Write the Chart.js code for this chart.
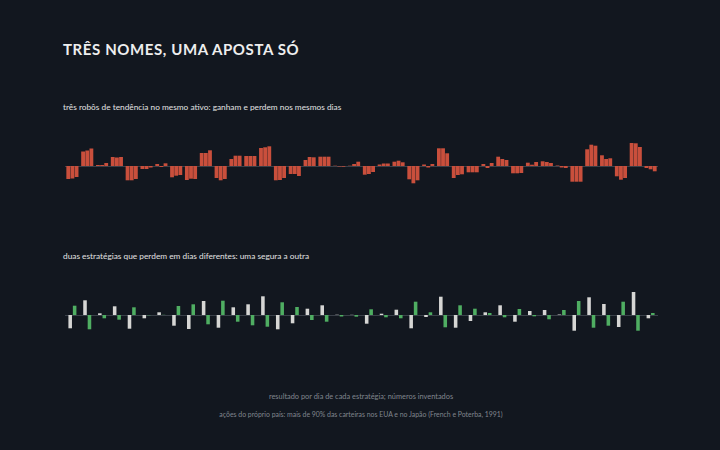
<!DOCTYPE html>
<html lang="pt">
<head>
    <meta charset="UTF-8">
    <title>Três nomes, uma aposta só</title>
    <script src="https://cdn.jsdelivr.net/npm/chart.js"></script>
    <style>
        html, body { margin: 0; padding: 0; }
        body {
            width: 720px; height: 450px; position: relative; overflow: hidden;
            background: #12171f; font-family: "Lato", "Noto Sans", sans-serif;
        }
        .txt { position: absolute; white-space: nowrap; }
        #title { left: 63px; top: 40px; font-size: 15px; font-weight: 700; letter-spacing: 0.6px; color: #eeeeee; }
        .sub { left: 63px; font-size: 8.3px; color: #e2e2e2; }
        #sub1 { top: 102px; }
        #sub2 { top: 251px; }
        .foot { left: 0; width: 722px; text-align: center; color: #80868e; font-size: 7.4px; }
        #foot1 { top: 392px; }
        #foot2 { top: 410px; font-size: 6.9px; }
        .panel { position: absolute; left: 65px; width: 593px; height: 60px; }
        #panel1 { top: 136px; }
        #panel2 { top: 285px; }
    </style>
</head>
<body>
    <div id="title" class="txt">TRÊS NOMES, UMA APOSTA SÓ</div>
    <div id="sub1" class="txt sub">três robôs de tendência no mesmo ativo: ganham e perdem nos mesmos dias</div>
    <div id="sub2" class="txt sub">duas estratégias que perdem em dias diferentes: uma segura a outra</div>
    <div id="foot1" class="txt foot">resultado por dia de cada estratégia; números inventados</div>
    <div id="foot2" class="txt foot">ações do próprio país: mais de 90% das carteiras nos EUA e no Japão (French e Poterba, 1991)</div>

    <div id="panel1" class="panel"><canvas id="chart1"></canvas></div>
    <div id="panel2" class="panel"><canvas id="chart2"></canvas></div>

    <script>
        // 40 dias, resultado diário (%), valores inventados
        var days = [];
        for (var d = 1; d <= 40; d++) days.push('dia ' + d);

        // três robôs de tendência: mesmo sinal quase sempre
        var robo1 = [-1.3, 1.45, 0.1, 0.9, -1.43, -0.3, 0.2, -1.13, -1.4, 1.3,
                     -1.2, 0.7, 1.0, 1.8, -1.43, -0.8, 0.6, 0.93, 0.03, 0.03,
                     -0.87, 0.15, 0.43, -1.33, 0.15, 1.77, -1.2, -0.63, 0.2, 0.93,
                     -0.73, 0.33, 0.47, 0.05, -1.57, 1.67, 1.07, -1.03, 2.3, -0.2];
        var robo2 = [-1.25, 1.55, 0.1, 0.85, -1.43, -0.3, -0.1, -0.97, -1.27, 1.3,
                     -1.43, 1.03, 1.0, 1.87, -1.4, -0.8, 0.9, 0.93, -0.05, 0.2,
                     -0.8, 0.25, 0.53, -1.73, -0.15, 1.77, -0.9, -0.63, -0.2, 0.7,
                     -0.73, 0.13, 0.4, -0.15, -1.57, 2.13, 0.7, -1.37, 2.27, -0.33];
        var robo3 = [-1.1, 1.75, 0.3, 0.9, -1.3, -0.15, 0.27, -0.9, -1.3, 1.57,
                     -1.3, 1.03, 1.0, 1.97, -1.2, -1.0, 0.87, 0.93, -0.07, 0.43,
                     -0.6, 0.25, 0.37, -1.43, 0.2, 1.27, -0.83, -0.63, 0.3, 0.6,
                     -0.7, 0.4, 0.3, -0.2, -1.57, 2.03, 0.77, -1.2, 1.9, -0.53];

        // duas estratégias descorrelacionadas: sinais opostos
        var estrategiaA = [-1.33, 1.47, 0.17, 0.87, -1.37, -0.33, 0.27, -1.07, -1.4, 1.4,
                           -1.27, 0.77, 1.07, 1.87, -1.43, -0.83, 0.63, 0.97, 0.03, 0.02,
                           -0.87, 0.13, 0.53, -1.33, -0.2, 1.83, -1.27, -0.6, 0.27, 0.97,
                           -0.67, 0.4, 0.5, 0.05, -1.57, 1.77, 1.1, -1.2, 2.3, -0.33];
        var estrategiaB = [0.93, -1.43, -0.33, -0.47, 0.77, -0.03, 0.02, 0.9, 1.07, -0.93,
                           1.43, -0.67, -1.03, -1.17, 1.27, 0.8, -0.5, -0.67, -0.15, -0.17,
                           0.57, -0.23, -0.33, 1.33, 0.27, -1.23, 0.97, 0.63, 0.2, -0.23,
                           0.6, -0.13, -0.43, 0.5, 1.4, -1.27, -1.07, 1.33, -1.57, 0.2];

        var red = '#c94f3c';
        var light = '#d6d6d4';
        var green = '#4fae62';
        var zeroColor = '#3a4049';

        var zeroLine = {
            id: 'zeroLine',
            beforeDatasetsDraw: function(chart) {
                var ctx = chart.ctx;
                var area = chart.chartArea;
                var y = Math.round(chart.scales.y.getPixelForValue(0)) + 0.5;
                ctx.save();
                ctx.strokeStyle = zeroColor;
                ctx.lineWidth = 1;
                ctx.beginPath();
                ctx.moveTo(area.left - 3, y);
                ctx.lineTo(area.right, y);
                ctx.stroke();
                ctx.restore();
            }
        };

        function baseOptions() {
            return {
                responsive: true,
                maintainAspectRatio: false,
                animation: false,
                layout: { padding: 0 },
                plugins: { legend: { display: false }, tooltip: { enabled: false } },
                scales: {
                    x: { display: false },
                    y: { display: false, min: -3, max: 3 }
                }
            };
        }

        var opts1 = baseOptions();
        opts1.datasets = { bar: { categoryPercentage: 0.84, barPercentage: 0.92 } };
        new Chart(document.getElementById('chart1'), {
            type: 'bar',
            data: {
                labels: days,
                datasets: [
                    { label: 'robô 1', data: robo1, backgroundColor: red },
                    { label: 'robô 2', data: robo2, backgroundColor: red },
                    { label: 'robô 3', data: robo3, backgroundColor: red }
                ]
            },
            options: opts1,
            plugins: [zeroLine]
        });

        var opts2 = baseOptions();
        opts2.datasets = { bar: { categoryPercentage: 0.6, barPercentage: 0.8 } };
        new Chart(document.getElementById('chart2'), {
            type: 'bar',
            data: {
                labels: days,
                datasets: [
                    { label: 'estratégia A', data: estrategiaA, backgroundColor: light },
                    { label: 'estratégia B', data: estrategiaB, backgroundColor: green }
                ]
            },
            options: opts2,
            plugins: [zeroLine]
        });
    </script>
</body>
</html>
